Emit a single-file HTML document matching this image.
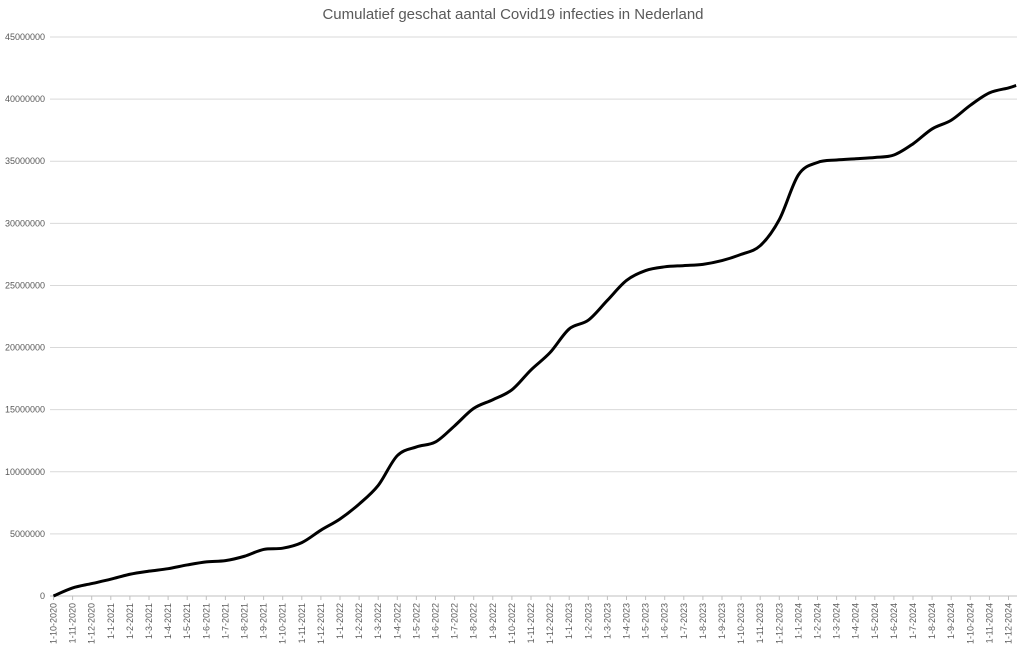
<!DOCTYPE html>
<html><head><meta charset="utf-8"><style>
body{margin:0;background:#fff;width:1024px;height:649px;overflow:hidden;font-family:"Liberation Sans",sans-serif}
</style></head><body>
<svg id="chart" width="1024" height="649" xmlns="http://www.w3.org/2000/svg">
<text x="513" y="19" text-anchor="middle" font-size="15" fill="#595959" font-family="Liberation Sans, sans-serif">Cumulatief geschat aantal Covid19 infecties in Nederland</text>
<g id="grid"></g><g id="yl"></g><g id="xl"></g><g id="series"></g>
</svg>
<script>
const yTicks=[0,5000000,10000000,15000000,20000000,25000000,30000000,35000000,40000000,45000000];
const monthIdx=[0,1,2,3,4,5,6,7,8,9,10,11,12,13,14,15,16,17,18,19,20,21,22,23,24,25,26,27,28,29,30,31,32,33,34,35,36,37,38,39,40,41,42,43,44,45,46,47,48,49,50,50.4];
const values=[0,0.65,1.0,1.35,1.75,2.0,2.2,2.5,2.75,2.85,3.2,3.75,3.85,4.3,5.3,6.2,7.4,8.9,11.3,12.0,12.4,13.7,15.1,15.8,16.6,18.2,19.6,21.5,22.2,23.8,25.4,26.2,26.5,26.6,26.7,27.0,27.5,28.2,30.3,33.9,34.9,35.1,35.2,35.3,35.5,36.4,37.6,38.3,39.5,40.5,40.9,41.1];
const ns="http://www.w3.org/2000/svg";
const x0=53.5,dx=19.1,y0=596,yTop=37,yMax=45000000;
const X=i=>x0+i*dx, Y=v=>y0-(v/yMax)*(y0-yTop);
const g=document.getElementById('grid'),yl=document.getElementById('yl'),xl=document.getElementById('xl'),s=document.getElementById('series');
yTicks.forEach(t=>{
 const l=document.createElementNS(ns,'line');
 
 
 l.setAttribute('x1',50);l.setAttribute('x2',1017);l.setAttribute('y1',Y(t));l.setAttribute('y2',Y(t));
 l.setAttribute('stroke',t===0?'#bfbfbf':'#d9d9d9');l.setAttribute('stroke-width',1);g.appendChild(l);
 const tx=document.createElementNS(ns,'text');
 
 
 tx.setAttribute('x',45);tx.setAttribute('y',Y(t)+3);tx.setAttribute('text-anchor','end');
 tx.setAttribute('font-size','9');tx.setAttribute('fill','#595959');tx.textContent=t;yl.appendChild(tx);
});
for(let i=0;i<=50;i++){
 const m=((9+i)%12)+1, yr=2020+Math.floor((9+i)/12);
 const tk=document.createElementNS(ns,'line');
 
 
 tk.setAttribute('x1',X(i));tk.setAttribute('x2',X(i));tk.setAttribute('y1',596);tk.setAttribute('y2',600);
 tk.setAttribute('stroke','#bfbfbf');xl.appendChild(tk);
 const tx=document.createElementNS(ns,'text');
 
 
 tx.setAttribute('transform','translate('+(X(i)+3)+',603) rotate(-90)');
 tx.setAttribute('text-anchor','end');tx.setAttribute('font-size','9');tx.setAttribute('fill','#595959');
 tx.textContent='1-'+m+'-'+yr;xl.appendChild(tx);
}
const pts=monthIdx.map((m,i)=>[X(m),Y(values[i]*1e6)]);
let d='M'+pts[0][0]+','+pts[0][1];
for(let i=0;i<pts.length-1;i++){
 const p0=pts[Math.max(i-1,0)],p1=pts[i],p2=pts[i+1],p3=pts[Math.min(i+2,pts.length-1)];
 const c1=[p1[0]+(p2[0]-p0[0])/6,p1[1]+(p2[1]-p0[1])/6];
 const c2=[p2[0]-(p3[0]-p1[0])/6,p2[1]-(p3[1]-p1[1])/6];
 d+=' C'+c1+' '+c2+' '+p2;
}
const p=document.createElementNS(ns,'path');


p.setAttribute('d',d);
p.setAttribute('fill','none');p.setAttribute('stroke','#000');p.setAttribute('stroke-width','3');p.setAttribute('stroke-linejoin','round');
s.appendChild(p);
</script>
</body></html>
